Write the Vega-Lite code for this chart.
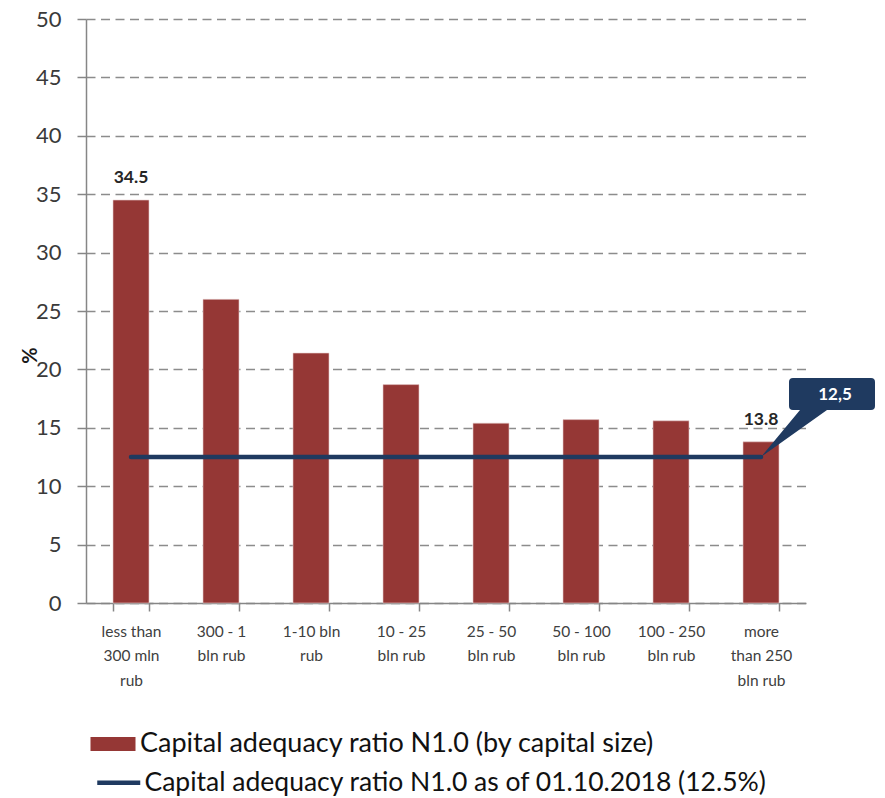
{
  "$schema": "https://vega.github.io/schema/vega-lite/v6.json",
  "autosize": "none",
  "padding": {"left": 86, "top": 19, "right": 79, "bottom": 195},
  "width": 720,
  "height": 584,
  "config": {
    "view": {"stroke": null},
    "font": "Lato",
    "axis": {"labelFont": "Lato", "titleFont": "Lato"},
    "legend": {"labelFont": "Lato"}
  },
  "datasets": {
    "bars": [
      {"category": "less than|300 mln|rub", "value": 34.5, "series": "Capital adequacy ratio N1.0 (by capital size)", "label": "34.5"},
      {"category": "300 - 1|bln rub", "value": 26.0, "series": "Capital adequacy ratio N1.0 (by capital size)", "label": ""},
      {"category": "1-10  bln|rub", "value": 21.4, "series": "Capital adequacy ratio N1.0 (by capital size)", "label": ""},
      {"category": "10 - 25|bln rub", "value": 18.7, "series": "Capital adequacy ratio N1.0 (by capital size)", "label": ""},
      {"category": "25 - 50|bln rub", "value": 15.4, "series": "Capital adequacy ratio N1.0 (by capital size)", "label": ""},
      {"category": "50 - 100|bln rub", "value": 15.7, "series": "Capital adequacy ratio N1.0 (by capital size)", "label": ""},
      {"category": "100 - 250|bln rub", "value": 15.6, "series": "Capital adequacy ratio N1.0 (by capital size)", "label": ""},
      {"category": "more|than 250|bln rub", "value": 13.8, "series": "Capital adequacy ratio N1.0 (by capital size)", "label": "13.8"}
    ],
    "norm": [
      {"category": "less than|300 mln|rub", "value": 12.5, "series": "Capital adequacy ratio N1.0 as of 01.10.2018 (12.5%)"},
      {"category": "300 - 1|bln rub", "value": 12.5, "series": "Capital adequacy ratio N1.0 as of 01.10.2018 (12.5%)"},
      {"category": "1-10  bln|rub", "value": 12.5, "series": "Capital adequacy ratio N1.0 as of 01.10.2018 (12.5%)"},
      {"category": "10 - 25|bln rub", "value": 12.5, "series": "Capital adequacy ratio N1.0 as of 01.10.2018 (12.5%)"},
      {"category": "25 - 50|bln rub", "value": 12.5, "series": "Capital adequacy ratio N1.0 as of 01.10.2018 (12.5%)"},
      {"category": "50 - 100|bln rub", "value": 12.5, "series": "Capital adequacy ratio N1.0 as of 01.10.2018 (12.5%)"},
      {"category": "100 - 250|bln rub", "value": 12.5, "series": "Capital adequacy ratio N1.0 as of 01.10.2018 (12.5%)"},
      {"category": "more|than 250|bln rub", "value": 12.5, "series": "Capital adequacy ratio N1.0 as of 01.10.2018 (12.5%)"}
    ],
    "callout": [
      {"category": "more|than 250|bln rub", "value": 12.5, "label": "12,5"}
    ]
  },
  "encoding": {
    "x": {
      "field": "category",
      "type": "nominal",
      "sort": null,
      "scale": {"paddingInner": 0.6, "paddingOuter": 0.3},
      "axis": {
        "title": null,
        "labelAngle": 0,
        "labelExpr": "split(datum.label, '|')",
        "labelFontSize": 15.5,
        "labelLineHeight": 24.5,
        "labelColor": "#404040",
        "labelPadding": 13,
        "tickBand": "extent",
        "tickSize": 8,
        "tickColor": "#868686",
        "tickWidth": 1.5,
        "domainColor": "#868686",
        "domainWidth": 1.5,
        "grid": false
      }
    },
    "y": {
      "field": "value",
      "type": "quantitative",
      "scale": {"domain": [0, 50], "nice": false},
      "axis": {
        "title": "%",
        "titleFontSize": 20,
        "titleFontWeight": "bold",
        "titleColor": "#1a1a1a",
        "titleAngle": -90,
        "titleX": -56,
        "titleY": 336,
        "titleAlign": "center",
        "titleBaseline": "middle",
        "values": [0, 5, 10, 15, 20, 25, 30, 35, 40, 45, 50],
        "labelFontSize": 22,
        "labelColor": "#3a3a3a",
        "labelPadding": 16,
        "tickSize": 9,
        "tickColor": "#868686",
        "tickWidth": 1.5,
        "domainColor": "#868686",
        "domainWidth": 1.5,
        "grid": true,
        "gridColor": "#8c8c8c",
        "gridWidth": 1.4,
        "gridDash": [9, 5.5]
      }
    }
  },
  "layer": [
    {
      "data": {"name": "bars"},
      "mark": {"type": "bar", "stroke": "#e8cfcf", "strokeWidth": 0.6},
      "encoding": {
        "fill": {
          "field": "series",
          "type": "nominal",
          "scale": {"range": ["#953735"]},
          "legend": {
            "title": null,
            "orient": "none",
            "direction": "vertical",
            "legendX": 13.5,
            "legendY": 711.5,
            "padding": 0,
            "symbolSize": 400,
            "symbolType": "M-2.25,-0.7H2.25V0.7H-2.25Z",
            "symbolOpacity": 1,
            "symbolStrokeWidth": 0,
            "labelFontSize": 27,
            "labelColor": "#111111",
            "labelOffset": 13.5,
            "labelLimit": 0
          }
        }
      }
    },
    {
      "data": {"name": "norm"},
      "mark": {"type": "line", "strokeWidth": 4.5, "strokeCap": "round"},
      "encoding": {
        "stroke": {
          "field": "series",
          "type": "nominal",
          "scale": {"range": ["#1f3a60"]},
          "legend": {
            "title": null,
            "orient": "none",
            "direction": "vertical",
            "legendX": 13.5,
            "legendY": 750.5,
            "padding": 0,
            "symbolSize": 400,
            "symbolType": "M-1.55,0H2.75",
            "symbolStrokeWidth": 4.5,
            "symbolOpacity": 1,
            "labelFontSize": 26.5,
            "labelColor": "#111111",
            "labelOffset": 18.5,
            "labelLimit": 0
          }
        }
      }
    },
    {
      "data": {"name": "callout"},
      "mark": {
        "type": "point",
        "filled": true,
        "opacity": 1,
        "color": "#1f3a60",
        "size": 40000,
        "shape": "M0,0 L0.39,-0.47 L0.32,-0.47 Q0.28,-0.47 0.28,-0.51 L0.28,-0.75 Q0.28,-0.79 0.32,-0.79 L1.10,-0.79 Q1.14,-0.79 1.14,-0.75 L1.14,-0.51 Q1.14,-0.47 1.10,-0.47 L0.66,-0.47 Z",
        "clip": false
      },
      "encoding": {}
    },
    {
      "data": {"name": "callout"},
      "mark": {"type": "text", "color": "white", "fontWeight": "bold", "fontSize": 17, "dx": 74, "dy": -62, "align": "center", "baseline": "middle"},
      "encoding": {"text": {"field": "label"}}
    },
    {
      "data": {"name": "bars"},
      "mark": {"type": "text", "color": "#262626", "fontWeight": "bold", "fontSize": 17.5, "dy": -17, "align": "center", "baseline": "alphabetic"},
      "encoding": {"text": {"field": "label"}}
    }
  ]
}
